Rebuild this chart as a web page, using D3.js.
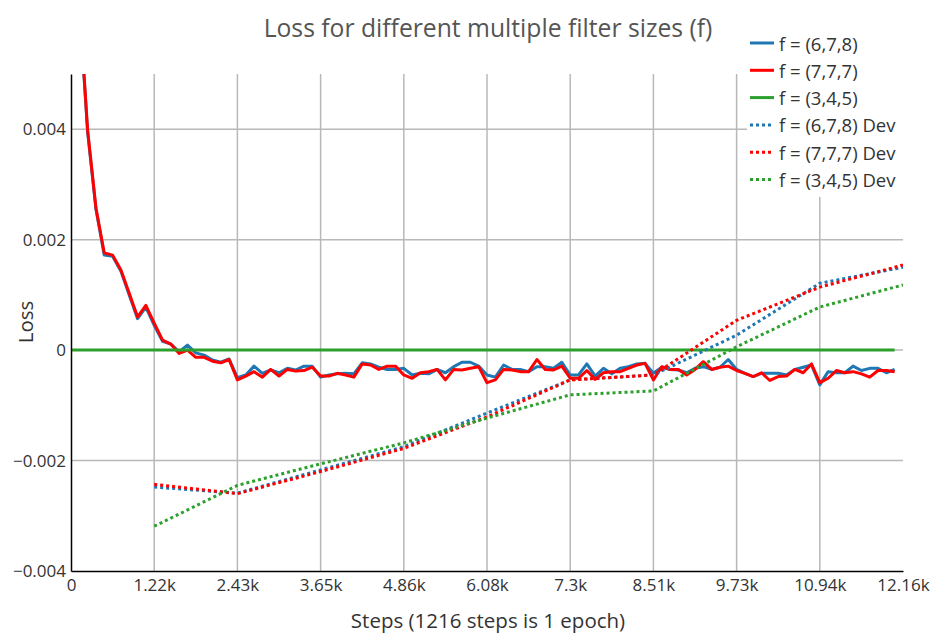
<!DOCTYPE html>
<html>
<head>
<meta charset="utf-8">
<script src="https://cdn.jsdelivr.net/npm/d3@7/dist/d3.min.js"></script>
<style>
  html, body { margin: 0; padding: 0; background: #fff; }
  svg { display: block; font-family: "Open Sans", sans-serif; }
</style>
</head>
<body>
<svg id="chart" width="933" height="633"></svg>
<script>
// Training steps at which loss was logged (every 1/10 epoch)
const steps = [
  0, 122, 243, 365, 486, 608, 730, 851, 973, 1094,
  1216, 1338, 1459, 1581, 1702, 1824, 1946, 2067, 2189, 2310,
  2432, 2554, 2675, 2797, 2918, 3040, 3162, 3283, 3405, 3526,
  3648, 3770, 3891, 4013, 4134, 4256, 4378, 4499, 4621, 4742,
  4864, 4986, 5107, 5229, 5350, 5472, 5594, 5715, 5837, 5958,
  6080, 6202, 6323, 6445, 6566, 6688, 6810, 6931, 7053, 7174,
  7296, 7418, 7539, 7661, 7782, 7904, 8026, 8147, 8269, 8390,
  8512, 8634, 8755, 8877, 8998, 9120, 9242, 9363, 9485, 9606,
  9728, 9850, 9971, 10093, 10214, 10336, 10458, 10579, 10701, 10822,
  10944, 11066, 11187, 11309, 11430, 11552, 11674, 11795, 11917, 12038
];

// Training loss, f = (6,7,8)
const loss678 = [
  0.0104, 0.00625, 0.00395, 0.00255, 0.00172, 0.0017, 0.00143, 0.001, 0.00057, 0.00078,
  0.00045, 0.00016, 0.00011, -0.00003, 0.00009, -0.00005, -0.00009, -0.00018, -0.00022, -0.00016,
  -0.0005, -0.00045, -0.00029, -0.00042, -0.00036, -0.00041, -0.00033, -0.00036, -0.00029, -0.00029,
  -0.00049, -0.00045, -0.00043, -0.00042, -0.00043, -0.00023, -0.00025, -0.00031, -0.00035, -0.00035,
  -0.00033, -0.00045, -0.00042, -0.00043, -0.00035, -0.00041, -0.0003, -0.00022, -0.00022, -0.00029,
  -0.00045, -0.00049, -0.00027, -0.00035, -0.00035, -0.00039, -0.0003, -0.0003, -0.00033, -0.00022,
  -0.00045, -0.00045, -0.00025, -0.00047, -0.00033, -0.00043, -0.00033, -0.0003, -0.00025, -0.00024,
  -0.00042, -0.00031, -0.00035, -0.00036, -0.00041, -0.00033, -0.0003, -0.00035, -0.00031, -0.00017,
  -0.00035, -0.00042, -0.00048, -0.00042, -0.00042, -0.00042, -0.00045, -0.00035, -0.00031, -0.00027,
  -0.00063, -0.00039, -0.00041, -0.00041, -0.00029, -0.00037, -0.00033, -0.00033, -0.00041, -0.00035
];

// Training loss, f = (7,7,7)
const loss777 = [
  0.0105, 0.0063, 0.00398, 0.00257, 0.00176, 0.00172, 0.00145, 0.00103, 0.0006, 0.00081,
  0.00049, 0.00018, 0.00011, -0.00006, 0.0, -0.00013, -0.00013, -0.0002, -0.00023, -0.00017,
  -0.00054, -0.00047, -0.00039, -0.00049, -0.00035, -0.00047, -0.00035, -0.00038, -0.00037, -0.00031,
  -0.00047, -0.00047, -0.00042, -0.00045, -0.00049, -0.00025, -0.00027, -0.00035, -0.00029, -0.00029,
  -0.00045, -0.00051, -0.00041, -0.00039, -0.00035, -0.00054, -0.00035, -0.00036, -0.00033, -0.0003,
  -0.00059, -0.00054, -0.00035, -0.00036, -0.00039, -0.00039, -0.00017, -0.00035, -0.00036, -0.00029,
  -0.00051, -0.00051, -0.00037, -0.00053, -0.00041, -0.00039, -0.00039, -0.00033, -0.00027, -0.00024,
  -0.00054, -0.0003, -0.00035, -0.00035, -0.00045, -0.00035, -0.00021, -0.00035, -0.00031, -0.00029,
  -0.00037, -0.00042, -0.00048, -0.00041, -0.00055, -0.00048, -0.00047, -0.00035, -0.00041, -0.00025,
  -0.00059, -0.00051, -0.00037, -0.00041, -0.00039, -0.00043, -0.00049, -0.00037, -0.00037, -0.00039
];

// Training loss, f = (3,4,5)
const loss345 = [
  0, 0, 0, 0, 0, 0, 0, 0, 0, 0,
  0, 0, 0, 0, 0, 0, 0, 0, 0, 0,
  0, 0, 0, 0, 0, 0, 0, 0, 0, 0,
  0, 0, 0, 0, 0, 0, 0, 0, 0, 0,
  0, 0, 0, 0, 0, 0, 0, 0, 0, 0,
  0, 0, 0, 0, 0, 0, 0, 0, 0, 0,
  0, 0, 0, 0, 0, 0, 0, 0, 0, 0,
  0, 0, 0, 0, 0, 0, 0, 0, 0, 0,
  0, 0, 0, 0, 0, 0, 0, 0, 0, 0,
  0, 0, 0, 0, 0, 0, 0, 0, 0, 0
];

// Dev-set evaluation at the end of each epoch
const devSteps = [1216, 2432, 3648, 4864, 6080, 7296, 8512, 9728, 10944, 12160];
const dev678 = [-0.00248, -0.00259, -0.00217, -0.00175, -0.00114, -0.00054, -0.00045, 0.00027, 0.00121, 0.0015];
const dev777 = [-0.00243, -0.0026, -0.0022, -0.00178, -0.00121, -0.00054, -0.00045, 0.00054, 0.00114, 0.00154];
const dev345 = [-0.00319, -0.00245, -0.00206, -0.00168, -0.00123, -0.00081, -0.00074, 0.00006, 0.00078, 0.00118];

// Axis ticks
const xTicks = [0, 1216, 2432, 3648, 4864, 6080, 7296, 8512, 9728, 10944, 12160];
const xTickLabels = ["0", "1.22k", "2.43k", "3.65k", "4.86k", "6.08k", "7.3k", "8.51k", "9.73k", "10.94k", "12.16k"];
const yTicks = [-0.004, -0.002, 0, 0.002, 0.004];
const yTickLabels = ["\u22120.004", "\u22120.002", "0", "0.002", "0.004"];

const seriesNames = ["f = (6,7,8)", "f = (7,7,7)", "f = (3,4,5)",
                     "f = (6,7,8) Dev", "f = (7,7,7) Dev", "f = (3,4,5) Dev"];

const colors = { c678: "#1f77b4", c777: "#ff0000", c345: "#2ca02c" };

const series = [
  { name: seriesNames[0], xs: steps, ys: loss678, color: colors.c678, dash: null },
  { name: seriesNames[1], xs: steps, ys: loss777, color: colors.c777, dash: null },
  { name: seriesNames[2], xs: steps, ys: loss345, color: colors.c345, dash: null },
  { name: seriesNames[3], xs: devSteps, ys: dev678, color: colors.c678, dash: "3,3" },
  { name: seriesNames[4], xs: devSteps, ys: dev777, color: colors.c777, dash: "3,3" },
  { name: seriesNames[5], xs: devSteps, ys: dev345, color: colors.c345, dash: "3,3" }
];

const plot = { left: 71, right: 903, top: 74, bottom: 571 };

const svg = d3.select("#chart");

const x = d3.scaleLinear().domain([0, 12160]).range([plot.left, plot.right]);
const y = d3.scaleLinear().domain([-0.004, 0.005]).range([plot.bottom, plot.top]);

// Grid
const grid = svg.append("g").attr("class", "grid");
grid.selectAll("line.vg")
  .data(xTicks.filter(t => t > 0 && t < 12160))
  .join("line")
  .attr("x1", d => x(d)).attr("x2", d => x(d))
  .attr("y1", plot.top).attr("y2", plot.bottom)
  .attr("stroke", "#b8b8b8").attr("stroke-width", 1.5);
grid.selectAll("line.hg")
  .data(yTicks.filter(t => t > -0.004))
  .join("line")
  .attr("x1", plot.left).attr("x2", plot.right)
  .attr("y1", d => y(d)).attr("y2", d => y(d))
  .attr("stroke", "#b8b8b8").attr("stroke-width", 1.5);

// Traces
svg.append("clipPath").attr("id", "plotclip")
  .append("rect")
  .attr("x", plot.left).attr("y", plot.top)
  .attr("width", plot.right - plot.left).attr("height", plot.bottom - plot.top);

const line = d3.line().x(d => x(d[0])).y(d => y(d[1]));
const traces = svg.append("g").attr("clip-path", "url(#plotclip)");
series.forEach(s => {
  traces.append("path")
    .datum(s.xs.map((v, i) => [v, s.ys[i]]))
    .attr("d", line)
    .attr("fill", "none")
    .attr("stroke", s.color)
    .attr("stroke-width", 3)
    .attr("stroke-linejoin", "round")
    .attr("stroke-dasharray", s.dash);
});

// Axes
const xAxis = d3.axisBottom(x)
  .tickValues(xTicks)
  .tickFormat((d, i) => xTickLabels[i])
  .tickSize(0).tickPadding(8);
const gx = svg.append("g").attr("transform", `translate(0,${plot.bottom})`).call(xAxis);
gx.select(".domain").attr("stroke", "#000").attr("stroke-width", 1.5);
gx.selectAll("text").attr("font-size", 17).attr("fill", "#333").attr("font-family", "Open Sans, sans-serif");

const yAxis = d3.axisLeft(y)
  .tickValues(yTicks)
  .tickFormat((d, i) => yTickLabels[i])
  .tickSize(0).tickPadding(5);
const gy = svg.append("g").attr("transform", `translate(${plot.left},0)`).call(yAxis);
gy.select(".domain").attr("stroke", "#000").attr("stroke-width", 1.5);
gy.selectAll("text").attr("font-size", 17).attr("fill", "#333").attr("font-family", "Open Sans, sans-serif");

// Titles
svg.append("text")
  .attr("x", 488).attr("y", 27)
  .attr("text-anchor", "middle").attr("dominant-baseline", "central")
  .attr("font-size", 24.7).attr("fill", "#555")
  .text("Loss for different multiple filter sizes (f)");

svg.append("text")
  .attr("x", 488).attr("y", 620)
  .attr("text-anchor", "middle").attr("dominant-baseline", "central")
  .attr("font-size", 20.5).attr("fill", "#333")
  .text("Steps (1216 steps is 1 epoch)");

svg.append("text")
  .attr("transform", "translate(25,322) rotate(-90)")
  .attr("text-anchor", "middle").attr("dominant-baseline", "central")
  .attr("font-size", 20.5).attr("fill", "#333")
  .text("Loss");

// Legend
const legend = svg.append("g");
legend.append("rect")
  .attr("x", 747).attr("y", 30).attr("width", 186).attr("height", 167)
  .attr("fill", "#fff");
series.forEach((s, i) => {
  const ly = 43 + i * 27.3;
  legend.append("line")
    .attr("x1", 750).attr("x2", 774).attr("y1", ly).attr("y2", ly)
    .attr("stroke", s.color).attr("stroke-width", 3)
    .attr("stroke-dasharray", s.dash);
  legend.append("text")
    .attr("x", 779).attr("y", ly)
    .attr("dominant-baseline", "central")
    .attr("font-size", 18.5).attr("fill", "#333")
    .text(s.name);
});
</script>
</body>
</html>
